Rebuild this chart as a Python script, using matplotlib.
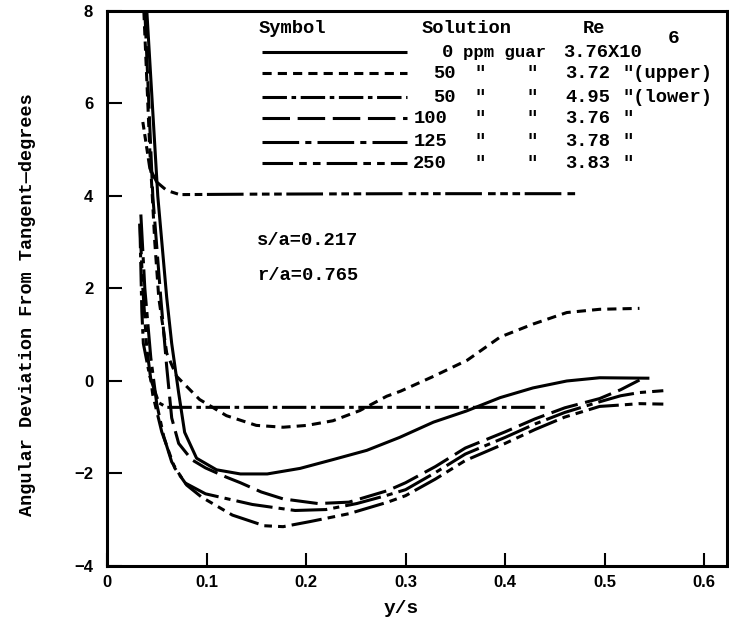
import matplotlib
matplotlib.use("Agg")
import matplotlib.pyplot as plt

# --- data (y/s, angular deviation in degrees) ---
x_0ppm = [0.040, 0.051, 0.060, 0.065, 0.072, 0.078, 0.090, 0.110, 0.134, 0.161, 0.194,
          0.227, 0.261, 0.294, 0.328, 0.361, 0.395, 0.428, 0.462, 0.495, 0.545]
y_0ppm = [8.0, 4.0, 1.8, 0.81, -0.26, -1.11, -1.67, -1.92, -2.01, -2.01, -1.89,
          -1.70, -1.50, -1.22, -0.89, -0.65, -0.36, -0.15, 0.0, 0.07, 0.06]

x_50up = [0.037, 0.043, 0.048, 0.052, 0.060, 0.070, 0.093, 0.120, 0.150, 0.177, 0.201,
          0.227, 0.254, 0.281, 0.295, 0.328, 0.362, 0.395, 0.428, 0.462, 0.495, 0.535]
y_50up = [8.0, 5.0, 3.0, 1.8, 0.6, 0.1, -0.40, -0.75, -0.96, -1.0, -0.96,
          -0.86, -0.64, -0.33, -0.22, 0.10, 0.45, 0.95, 1.23, 1.48, 1.55, 1.57]

x_50low = [0.033, 0.035, 0.0365, 0.043, 0.052, 0.060, 0.15, 0.30, 0.443]
y_50low = [3.4, 1.5, 0.81, 0.10, -0.47, -0.57, -0.57, -0.57, -0.57]

x_100 = [0.038, 0.046, 0.054, 0.060, 0.065, 0.072, 0.085, 0.099, 0.120, 0.134, 0.155,
         0.177, 0.212, 0.243, 0.282, 0.300, 0.330, 0.360, 0.400, 0.430, 0.460, 0.495,
         0.516, 0.535]
y_100 = [8.0, 4.0, 1.8, 0.3, -0.8, -1.35, -1.70, -1.88, -2.08, -2.20, -2.40,
         -2.55, -2.65, -2.62, -2.37, -2.20, -1.85, -1.45, -1.10, -0.82, -0.58, -0.38,
         -0.19, 0.02]

x_125 = [0.034, 0.038, 0.044, 0.050, 0.057, 0.065, 0.078, 0.099, 0.146, 0.189, 0.220,
         0.251, 0.280, 0.300, 0.330, 0.360, 0.400, 0.430, 0.460, 0.495, 0.516, 0.535, 0.559]
y_125 = [3.6, 2.0, 0.5, -0.5, -1.2, -1.75, -2.2, -2.44, -2.67, -2.80, -2.78,
         -2.65, -2.48, -2.35, -1.98, -1.58, -1.22, -0.93, -0.68, -0.45, -0.32, -0.25, -0.21]

x_250 = [0.033, 0.036, 0.040, 0.046, 0.055, 0.068, 0.080, 0.095, 0.126, 0.158, 0.177,
         0.204, 0.243, 0.282, 0.300, 0.330, 0.360, 0.400, 0.430, 0.460, 0.495, 0.516,
         0.535, 0.559]
y_250 = [3.4, 2.0, 0.7, -0.3, -1.1, -1.88, -2.25, -2.51, -2.90, -3.13, -3.15,
         -3.04, -2.87, -2.62, -2.48, -2.12, -1.72, -1.35, -1.05, -0.78, -0.55, -0.52,
         -0.49, -0.50]

x_flat4 = [0.036, 0.043, 0.050, 0.060, 0.073, 0.150, 0.300, 0.473]
y_flat4 = [5.6, 4.6, 4.3, 4.12, 4.03, 4.04, 4.05, 4.05]

x_ticks = [0, 0.1, 0.2, 0.3, 0.4, 0.5, 0.6]
x_ticklabels = ["0", "0.1", "0.2", "0.3", "0.4", "0.5", "0.6"]
y_ticks = [-4, -2, 0, 2, 4, 6, 8]
y_ticklabels = ["\u22124", "\u22122", "0", "2", "4", "6", "8"]

mono = "Liberation Mono"
sans = "Liberation Sans"

fig = plt.figure(figsize=(7.29, 6.21), dpi=100)
ax = fig.add_axes([0.1468, 0.0886, 0.8505, 0.8937])

lw = 2.2
styles = {
    "0":     (0, ()),
    "50up":  (0, (3, 2)),
    "50low": (0, (8, 1.5, 1.5, 1.5)),
    "100":   (0, (9, 2.5)),
    "125":   (0, (12, 2, 2, 2)),
    "250":   (0, (10, 2, 2.5, 2, 2.5, 2)),
}

ax.plot(x_0ppm, y_0ppm, color="black", lw=lw, ls=styles["0"])
ax.plot(x_50up, y_50up, color="black", lw=lw, ls=styles["50up"])
ax.plot(x_50low, y_50low, color="black", lw=lw, ls=styles["50low"])
ax.plot(x_100, y_100, color="black", lw=lw, ls=styles["100"])
ax.plot(x_125, y_125, color="black", lw=lw, ls=styles["125"])
ax.plot(x_250, y_250, color="black", lw=lw, ls=styles["250"])
ax.plot(x_flat4, y_flat4, color="black", lw=lw, ls=(0, (2.5, 1.5, 2.5, 1.5, 2.5, 1.5, 12, 2)))

ax.set_xlim(0, 0.623)
ax.set_ylim(-4, 8)
ax.set_xticks(x_ticks)
ax.set_xticklabels(x_ticklabels, fontfamily=sans, fontweight="bold", fontsize=12)
ax.set_yticks(y_ticks)
ax.set_yticklabels(y_ticklabels, fontfamily=sans, fontweight="bold", fontsize=12)
ax.tick_params(axis="x", direction="in", length=9.5, width=1.5, pad=6.5)
ax.tick_params(axis="y", direction="in", length=10.5, width=1.5, pad=10)
for sp in ax.spines.values():
    sp.set_linewidth(2.2)

ax.set_xlabel("y/s", fontfamily=mono, fontweight="bold", fontsize=14)
ax.xaxis.set_label_coords(0.474, -0.062)
fig.text(0.038, 0.510, "Angular Deviation From Tangent\u2014degrees", rotation=90,
         ha="center", va="center", fontfamily=mono, fontweight="bold", fontsize=13.3)

# --- legend table (typed key in the original) ---
tkw = dict(transform=ax.transAxes, fontfamily=mono, fontweight="bold", fontsize=13.5, va="center")
ax.text(0.244, 0.969, "Symbol", **tkw)
ax.text(0.508, 0.969, "Solution", **tkw)
ax.text(0.768, 0.969, "Re", **tkw)

rows_y = [0.926, 0.888, 0.845, 0.807, 0.764, 0.726]
row_styles = ["0", "50up", "50low", "100", "125", "250"]
conc = ["0", "50", "50", "100", "125", "250"]
conc_x = [0.540, 0.526, 0.526, 0.494, 0.494, 0.494]
re_vals = ["3.76X10", "3.72", "4.95", "3.76", "3.78", "3.83"]
re_tail = ["", '"(upper)', '"(lower)', '"', '"', '"']

for i, yy in enumerate(rows_y):
    ax.plot([0.25, 0.484], [yy, yy], transform=ax.transAxes, color="black", lw=lw,
            ls=styles[row_styles[i]], clip_on=False)
    ax.text(conc_x[i], yy, conc[i], **tkw)
    if i == 0:
        ax.text(0.574, yy, "ppm guar", **{**tkw, "fontsize": 12.5})
    else:
        ax.text(0.592, yy, '"', **tkw)
        ax.text(0.677, yy, '"', **tkw)
    ax.text(0.735 if i == 0 else 0.739, yy, re_vals[i], **tkw)
    if re_tail[i]:
        ax.text(0.832, yy, re_tail[i], **tkw)
ax.text(0.905, 0.950, "6", **{**tkw, "fontsize": 14})

ax.text(0.242, 0.586, "s/a=0.217", **tkw)
ax.text(0.242, 0.523, "r/a=0.765", **tkw)

fig.savefig("out.png", dpi=100)
